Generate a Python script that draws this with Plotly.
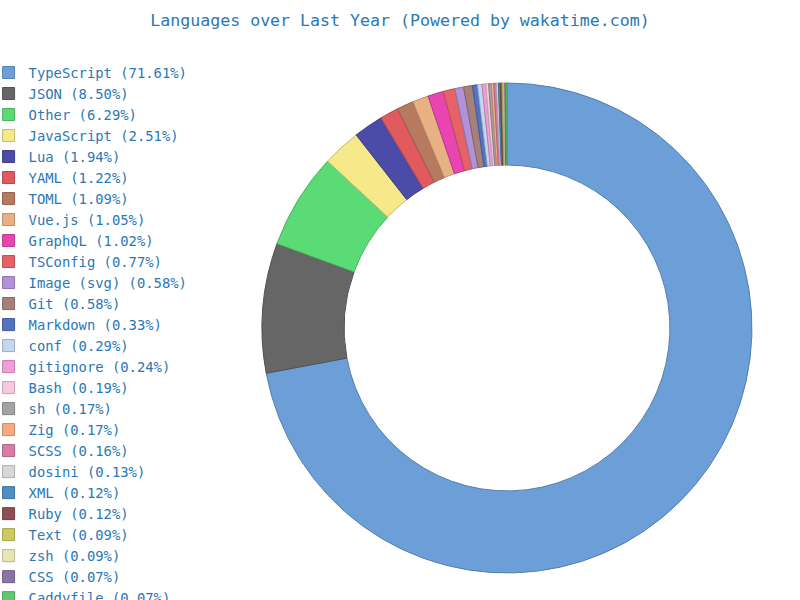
import plotly.graph_objects as go

languages = ["TypeScript", "JSON", "Other", "JavaScript", "Lua", "YAML", "TOML", "Vue.js",
             "GraphQL", "TSConfig", "Image (svg)", "Git", "Markdown", "conf", "gitignore",
             "Bash", "sh", "Zig", "SCSS", "dosini", "XML", "Ruby", "Text", "zsh", "CSS",
             "Caddyfile"]
percents = [71.61, 8.50, 6.29, 2.51, 1.94, 1.22, 1.09, 1.05,
            1.02, 0.77, 0.58, 0.58, 0.33, 0.29, 0.24,
            0.19, 0.17, 0.17, 0.16, 0.13, 0.12, 0.12, 0.09, 0.09, 0.07,
            0.07]
colors = ["#6c9fd8", "#666666", "#5bdb76", "#f5e98a", "#4b4ba8", "#e05a5e", "#b87a5e", "#e8b184",
          "#e845b0", "#e66266", "#b192d6", "#a6807a", "#5274c2", "#c5d6ef", "#f09ed8",
          "#f9c8e0", "#a3a3a3", "#f6ac80", "#d97ca8", "#d8d8d8", "#4d8ec4", "#8e4f52", "#cccc5c",
          "#e8e6b0", "#8a74a4", "#5ec96e"]


def darker(hexc, f=0.8):
    h = hexc.lstrip("#")
    r, g, b = (int(h[i:i + 2], 16) for i in (0, 2, 4))
    return "#%02x%02x%02x" % (int(r * f), int(g * f), int(b * f))


labels = [f"{n} ({p:.2f}%)" for n, p in zip(languages, percents)]
font_family = "DejaVu Sans Mono, monospace"
text_color = "#2a78b5"

fig = go.Figure(go.Pie(
    labels=labels,
    values=percents,
    hole=0.665,
    sort=False,
    direction="clockwise",
    rotation=0,
    textinfo="none",
    marker=dict(colors=colors, line=dict(color=[darker(c) for c in colors], width=1)),
))

fig.update_layout(
    width=800, height=600,
    paper_bgcolor="white", plot_bgcolor="white",
    margin=dict(l=262, r=48, t=83, b=27, autoexpand=False),
    title=dict(text="Languages over Last Year (Powered by wakatime.com)",
               x=0.5, xref="container", xanchor="center",
               y=1 - 20 / 600, yref="container", yanchor="middle",
               font=dict(family=font_family, size=16.6, color=text_color)),
    legend=dict(x=-0.558, xanchor="left", y=1.053, yanchor="top",
                font=dict(family=font_family, size=13.85, color=text_color),
                maxheight=2000, bgcolor="rgba(0,0,0,0)"),
    showlegend=True,
)

fig.write_html("out.html")
